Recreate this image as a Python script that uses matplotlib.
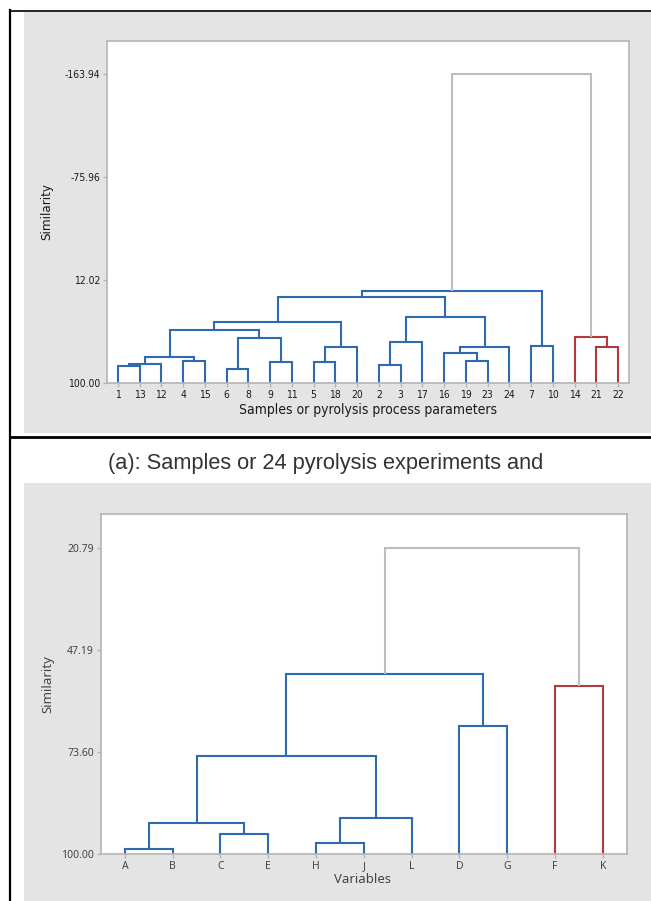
import matplotlib
matplotlib.use("Agg")
from matplotlib import pyplot as plt
from matplotlib.lines import Line2D
from matplotlib.patches import Rectangle

# panel (a): leaf order and merges (a, b, similarity); ints point to earlier merges
leaves1 = ['1', '13', '12', '4', '15', '6', '8', '9', '11', '5', '18', '20',
           '2', '3', '17', '16', '19', '23', '24', '7', '10', '14', '21', '22']
links1 = [
    ('1', '13', 85.5),    # 0
    (0, '12', 83.5),      # 1
    ('4', '15', 81.2),    # 2
    (1, 2, 77.5),         # 3
    ('6', '8', 87.8),     # 4
    ('9', '11', 82.3),    # 5
    (4, 5, 61.3),         # 6
    (3, 6, 54.7),         # 7
    ('5', '18', 82.3),    # 8
    (8, '20', 69.0),      # 9
    (7, 9, 48.2),         # 10
    ('2', '3', 84.6),     # 11
    (11, '17', 64.7),     # 12
    ('19', '23', 81.2),   # 13
    ('16', 13, 74.6),     # 14
    (14, '24', 69.0),     # 15
    (12, 15, 43.9),       # 16
    (10, 16, 26.3),       # 17
    ('7', '10', 68.1),    # 18
    (17, 18, 21.7),       # 19
    ('21', '22', 69.0),   # 20
    ('14', 20, 60.4),     # 21
    (19, 21, -163.94),    # 22
]
yticks1 = [-163.94, -75.96, 12.02, 100.00]

# panel (b): variables
leaves2 = ['A', 'B', 'C', 'E', 'H', 'J', 'L', 'D', 'G', 'F', 'K']
links2 = [
    ('A', 'B', 98.7),     # 0
    ('C', 'E', 94.8),     # 1
    (0, 1, 91.8),         # 2
    ('H', 'J', 97.0),     # 3
    (3, 'L', 90.7),       # 4
    (2, 4, 74.5),         # 5
    ('D', 'G', 66.9),     # 6
    (5, 6, 53.5),         # 7
    ('F', 'K', 56.5),     # 8
    (7, 8, 20.79),        # 9
]
yticks2 = [20.79, 47.19, 73.60, 100.00]

BLUE = '#2E6AB1'
RED = '#B23A3A'
GRAY = '#BDBDBD'
SPINE = '#B4B4B4'
BG = '#E4E4E4'


def link_colors(links):
    cols = [None] * len(links)

    def paint(i, c):
        cols[i] = c
        for ch in links[i][:2]:
            if isinstance(ch, int):
                paint(ch, c)
    cols[-1] = GRAY
    a, b, _ = links[-1]
    for ch, c in ((a, BLUE), (b, RED)):
        if isinstance(ch, int):
            paint(ch, c)
    return cols


def draw_dendro(ax, leaves, links):
    pos = {lab: i for i, lab in enumerate(leaves)}
    mx, mh = [], []
    cols = link_colors(links)

    def get(c):
        if isinstance(c, int):
            return mx[c], mh[c]
        return pos[c], 100.0
    for k, (a, b, h) in enumerate(links):
        xa, ha = get(a)
        xb, hb = get(b)
        ax.plot([xa, xa, xb, xb], [ha, h, h, hb], color=cols[k], lw=1.5,
                solid_joinstyle='miter', solid_capstyle='butt', clip_on=False)
        mx.append((xa + xb) / 2)
        mh.append(h)


def style_axes(ax, leaves, yticks, ytop, font, tcol, fs):
    ax.set_xlim(-0.5, len(leaves) - 0.5)
    ax.set_ylim(100, ytop)
    ax.set_yticks(yticks)
    ax.set_yticklabels(['%.2f' % v for v in yticks], color=tcol, fontsize=fs, **font)
    ax.set_xticks(range(len(leaves)))
    ax.set_xticklabels(leaves, color=tcol, fontsize=fs, **font)
    ax.tick_params(length=3, width=1, color=SPINE, pad=2)
    for s in ax.spines.values():
        s.set_color(SPINE)
        s.set_linewidth(1.2)


fig = plt.figure(figsize=(6.51, 9.01), dpi=100)
fig.patch.set_facecolor('white')

# gray panel backgrounds
fig.add_artist(Rectangle((24 / 651, 1 - 433 / 901), 627 / 651, 421 / 901,
                         transform=fig.transFigure, facecolor=BG, edgecolor='none', zorder=0))
fig.add_artist(Rectangle((24 / 651, 0), 627 / 651, 1 - 483 / 901,
                         transform=fig.transFigure, facecolor=BG, edgecolor='none', zorder=0))

# black table borders
fig.add_artist(Line2D([10 / 651, 10 / 651], [0, 1 - 10 / 901], transform=fig.transFigure,
                      color='black', lw=1.6))
fig.add_artist(Line2D([10 / 651, 1], [1 - 10.5 / 901, 1 - 10.5 / 901], transform=fig.transFigure,
                      color='black', lw=1.2))
fig.add_artist(Line2D([10 / 651, 1], [1 - 437 / 901, 1 - 437 / 901], transform=fig.transFigure,
                      color='black', lw=2.0))

narrow = dict(family='DejaVu Sans', stretch='condensed')
light = dict(family='Noto Sans')

# panel (a)
ax1 = fig.add_axes([107 / 651, 1 - 383 / 901, 522 / 651, 342 / 901])
draw_dendro(ax1, leaves1, links1)
style_axes(ax1, leaves1, yticks1, -192.1, narrow, '#1a1a1a', 7.5)
ax1.set_xlabel('Samples or pyrolysis process parameters', fontsize=10,
               color='#1a1a1a', **narrow)
ax1.xaxis.set_label_coords(0.5, -0.079)
ax1.xaxis.label.set_va('center')
ax1.set_ylabel('Similarity', fontsize=9.5, color='#1a1a1a', **narrow)
ax1.yaxis.set_label_coords(-0.115, 0.5)
ax1.yaxis.label.set_va('center')

# caption
fig.text(0.5, 1 - 463 / 901, '(a): Samples or 24 pyrolysis experiments and',
         ha='center', va='center', fontsize=15.7, color='#333333', family='Liberation Sans')

# panel (b)
ax2 = fig.add_axes([101 / 651, 1 - 854.3 / 901, 525.7 / 651, 340.3 / 901])
draw_dendro(ax2, leaves2, links2)
style_axes(ax2, leaves2, yticks2, 12.1, light, '#444444', 7.5)
ax2.set_xlabel('Variables', fontsize=9.5, color='#444444', **light)
ax2.xaxis.set_label_coords(0.498, -0.0755)
ax2.xaxis.label.set_va('center')
ax2.set_ylabel('Similarity', fontsize=9.5, color='#444444', **light)
ax2.yaxis.set_label_coords(-0.101, 0.5)
ax2.yaxis.label.set_va('center')

fig.savefig('out.png', dpi=100)
